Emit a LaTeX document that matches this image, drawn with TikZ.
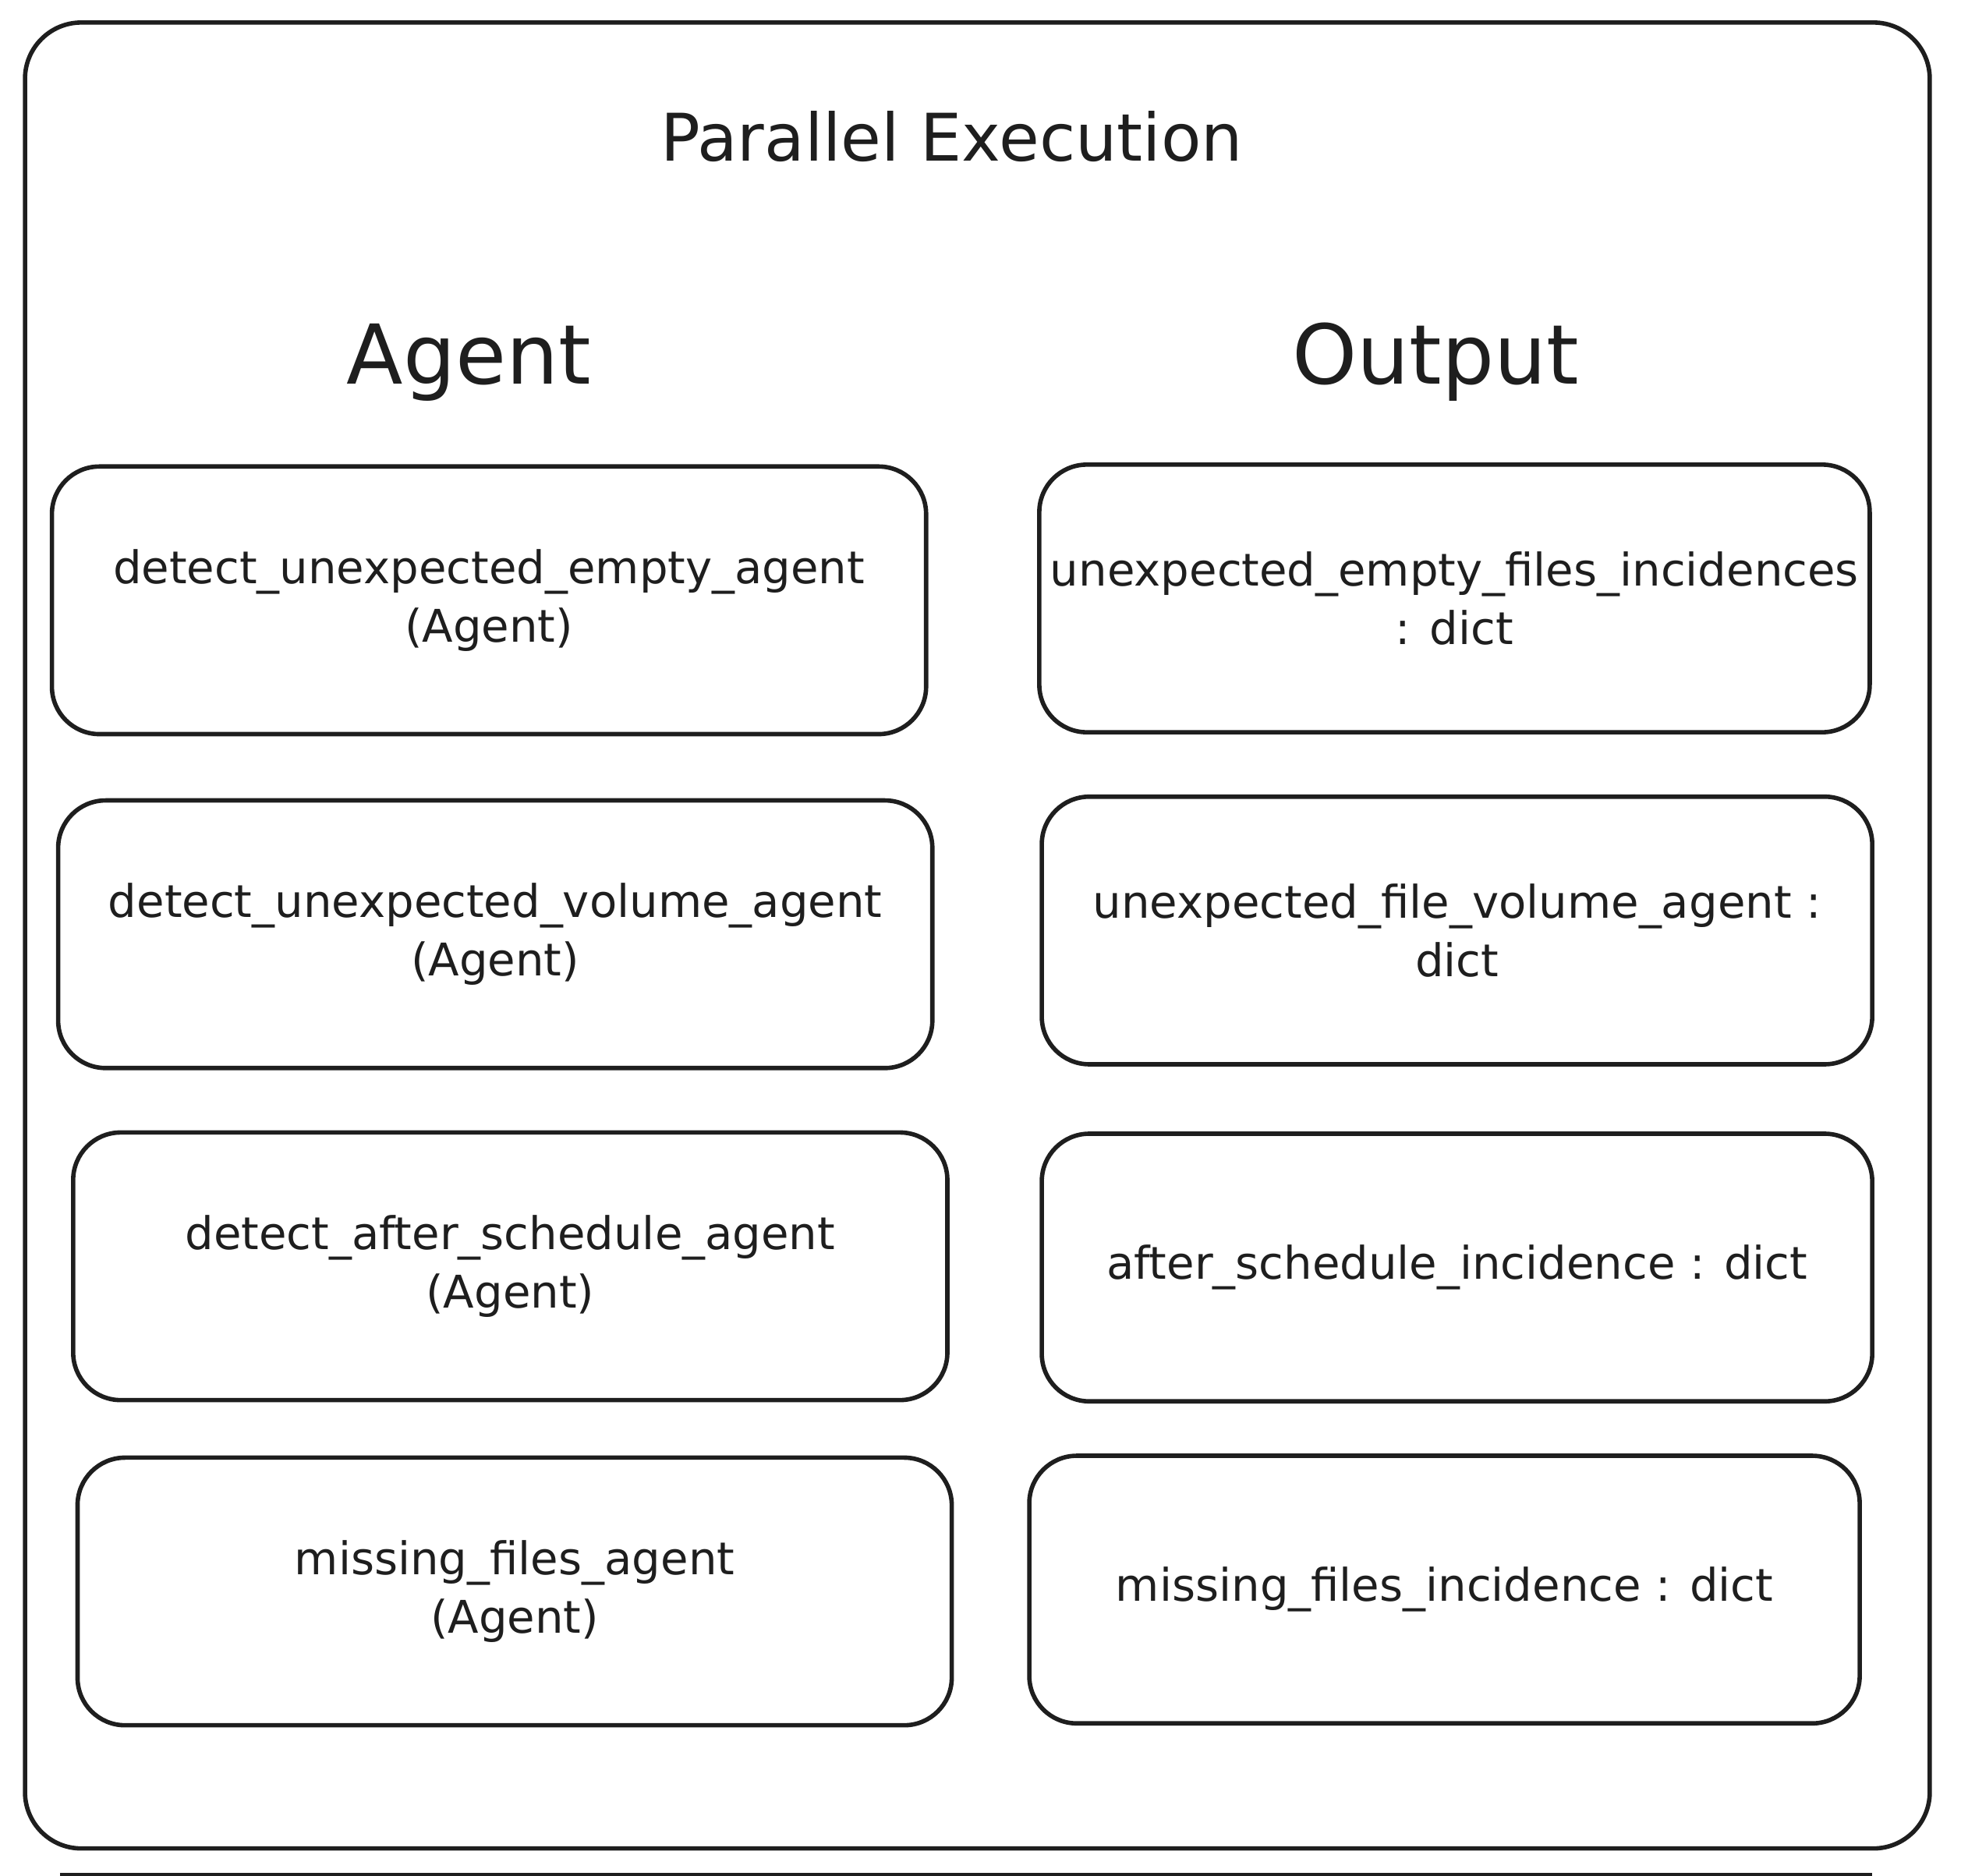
\documentclass[tikz,border=0pt]{standalone}
\usepackage{fontspec}
\setmainfont{DejaVu Sans}
\definecolor{ink}{HTML}{1E1E1E}
\begin{document}
\begin{tikzpicture}[x=1pt,y=-1pt,
  box/.style={draw=ink, line width=3.5pt, rounded corners=38pt, align=center, inner sep=0pt,
    text=ink, font=\fontsize{36}{47}\selectfont, minimum height=214pt},
  lbox/.style={box, minimum width=699pt},
  rbox/.style={box, minimum width=664pt},
  heading/.style={text=ink, inner sep=0pt, anchor=base}]
\useasboundingbox (0,0) rectangle (1568,1500);
\fill[white] (0,0) rectangle (1568,1500);
% outer frame
\node[draw=ink, line width=3.5pt, rounded corners=45pt, minimum width=1523pt, minimum height=1460pt, inner sep=0pt] (frame) at (781.5,748) {};
% cut-off edge at the bottom
\coordinate (cutL) at (48,1499);
\coordinate (cutR) at (1497,1499);
\draw[ink, line width=3.5pt] (cutL) -- (cutR);
% headings
\node[heading, font=\fontsize{52.5}{60}\selectfont] (title) at (761,129) {Parallel Execution};
\node[heading, font=\fontsize{66}{70}\selectfont] (agenthd) at (375,307) {Agent};
\node[heading, font=\fontsize{66}{70}\selectfont] (outputhd) at (1148,307) {Output};
% agent boxes
\node[lbox] (a1) at (391,480) {detect\_unexpected\_empty\_agent\\(Agent)};
\node[lbox] (a2) at (396,747) {detect\_unexpected\_volume\_agent\\(Agent)};
\node[lbox] (a3) at (408,1012.5) {detect\_after\_schedule\_agent\\(Agent)};
\node[lbox] (a4) at (411.5,1272.5) {missing\_files\_agent\\(Agent)};
% output boxes
\node[rbox] (o1) at (1163,478.5) {unexpected\_empty\_files\_incidences\\: dict};
\node[rbox] (o2) at (1165,744) {unexpected\_file\_volume\_agent :\\dict};
\node[rbox] (o3) at (1165,1013.5) {after\_schedule\_incidence : dict};
\node[rbox] (o4) at (1155,1271) {missing\_files\_incidence : dict};
\end{tikzpicture}
\end{document}
